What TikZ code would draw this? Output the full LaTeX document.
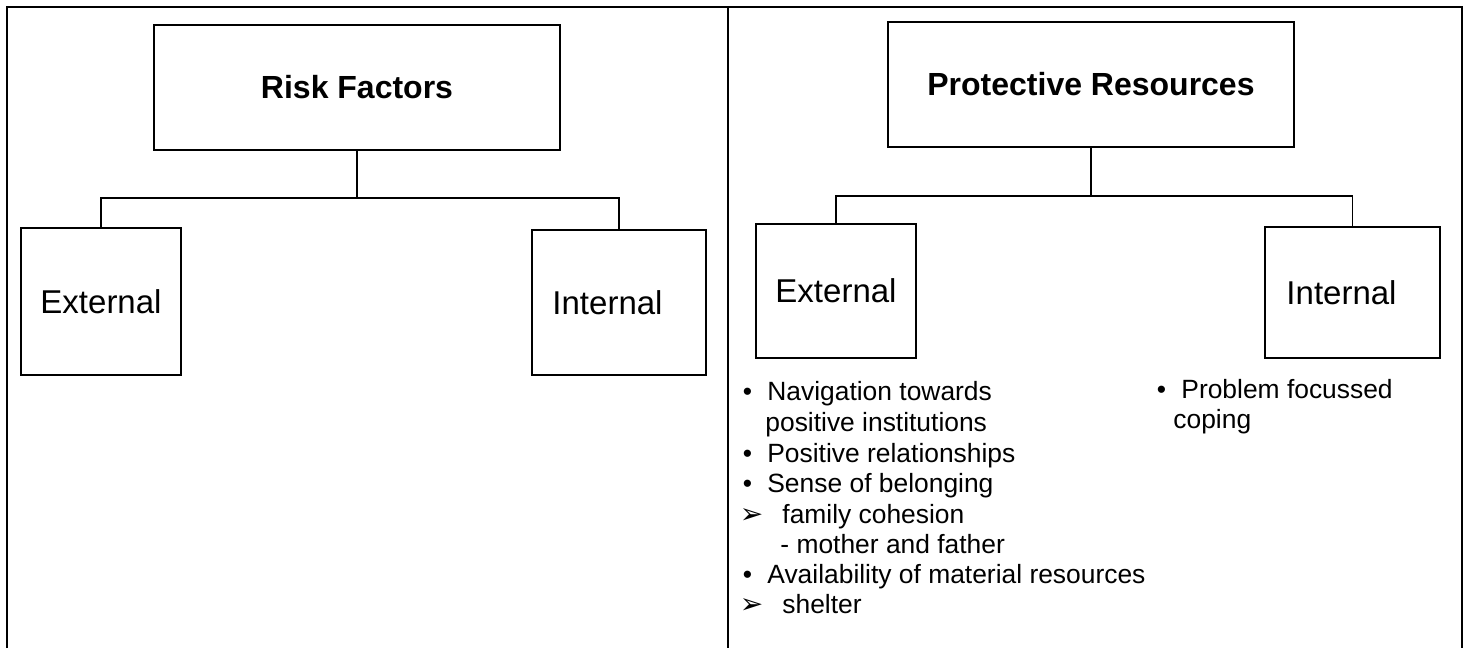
\documentclass[tikz,border=0pt]{standalone}
\usepackage{fontspec}
\setmainfont{Liberation Sans}
\newfontfamily\symfont{DejaVu Sans}
\begin{document}
\begin{tikzpicture}[x=0.5pt,y=-0.5pt,
  box/.style={draw, line width=0.9pt, inner sep=0pt, anchor=center},
  title/.style={box, font=\bfseries\fontsize{16}{19}\selectfont},
  sub/.style={box, font=\fontsize{16.5}{19}\selectfont},
  link/.style={line width=0.9pt},
  frame/.style={line width=1.35pt},
  item/.style={anchor=base west, inner sep=0pt, font=\fontsize{13.2}{15}\selectfont}]

\useasboundingbox (0,0) rectangle (1471,648);

% outer frame split into two panels, open at the bottom
\draw[frame] (7,648) -- (7,7) -- (1462,7) -- (1462,648);
\draw[frame] (728,7) -- (728,648);

% ---- left panel: risk factors ----
\node[title, minimum width=203pt, minimum height=62.5pt] (risk) at (357,87.5) {Risk Factors};
\node[sub, minimum width=80pt, minimum height=73.5pt] (lext) at (101,301.5) {External};
\node[sub, minimum width=87pt, minimum height=72.5pt] (lint) at (619,302.5) {Internal\hspace*{11.5pt}};

\coordinate (lbar) at (risk.south |- 0,198);
\draw[link] (risk.south) -- (lbar);
\draw[link] (lext.north) |- (lbar) -| (lint.north);

% ---- right panel: protective resources ----
\node[title, minimum width=203pt, minimum height=62.5pt] (prot) at (1091,84.5) {Protective Resources};
\node[sub, minimum width=80pt, minimum height=67pt] (rext) at (836,291) {External};
\node[sub, minimum width=87.5pt, minimum height=65.5pt] (rint) at (1352.5,292.5) {Internal\hspace*{11pt}};

\coordinate (rbar) at (prot.south |- 0,196);
\draw[link] (prot.south) -- (rbar);
\draw[link] (rext.north) |- (rbar) -| (rint.north);

% external resources list
\newcommand{\dotmark}{\llap{\textbullet\hspace{7.6pt}}}
\newcommand{\arrowmark}{\llap{{\symfont\fontsize{14}{16}\selectfont ➢}\hspace{9.5pt}}}
\node[item] (e1) at (767,400) {\dotmark Navigation towards};
\node[item] (e2) at (765,431) {positive institutions};
\node[item] (e3) at (767,462) {\dotmark Positive relationships};
\node[item] (e4) at (767,492) {\dotmark Sense of belonging};
\node[item] (e5) at (782,523) {\arrowmark family cohesion};
\node[item] (e6) at (780,553) {- mother and father};
\node[item] (e7) at (767,583) {\dotmark Availability of material resources};
\node[item] (e8) at (782,613) {\arrowmark shelter};

% internal resources list
\node[item] (i1) at (1181,398) {\dotmark Problem focussed};
\node[item] (i2) at (1173,428) {coping};
\end{tikzpicture}
\end{document}
